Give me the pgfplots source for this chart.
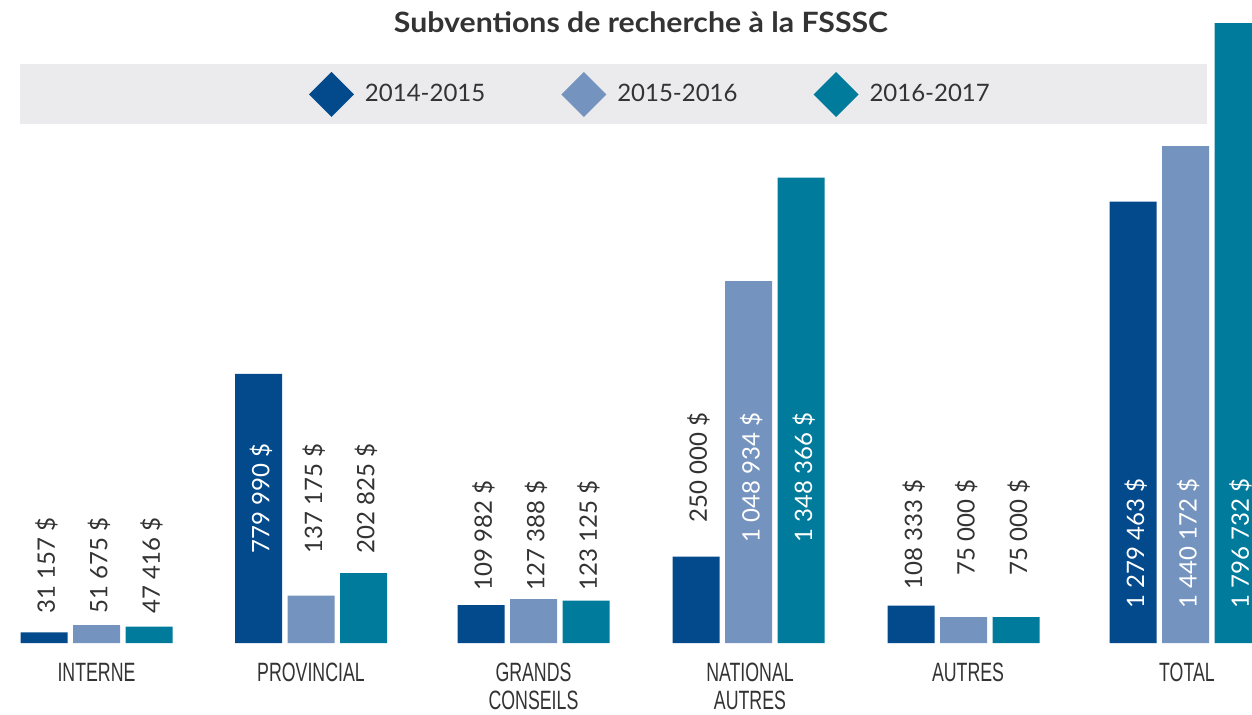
\documentclass[border=0pt]{standalone}
\usepackage{fontspec}
\setmainfont{Lato}
\newfontfamily\condfont[FakeStretch=0.67]{Liberation Sans}
\newfontfamily\titlefont[FakeStretch=1.08]{Lato}
\usepackage{pgfplots}
\pgfplotsset{compat=1.18}
\usepackage{pgfplotstable}

\definecolor{cA}{RGB}{2,74,140}
\definecolor{cB}{RGB}{116,147,191}
\definecolor{cC}{RGB}{0,123,155}
\definecolor{band}{RGB}{235,235,237}
\definecolor{txt}{RGB}{51,51,51}

\pgfplotstableread{
x a b c
96.5 31157 51675 47416
311 779990 137175 202825
533.5 109982 127388 123125
748.5 250000 1048934 1348366
963.5 108333 75000 75000
1185.5 1279463 1440172 1796732
}\data

\begin{document}
\begin{tikzpicture}
\begin{axis}[
  name=ax,
  scale only axis, width=626pt, height=357pt,
  xmin=0, xmax=1252, ymin=-205758, ymax=1863414,
  hide axis, clip=true,
  ybar, bar width=47,
  legend image code/.code={\fill[#1] (0pt,0pt) -- (11.25pt,11.25pt) -- (22.5pt,0pt) -- (11.25pt,-11.25pt) -- cycle;},
  legend columns=3,
  legend style={at={(rel axis cs:{309/1252},{1-94.5/714})}, anchor=west,
    draw=none, fill=none, inner sep=0pt, outer sep=0pt,
    text=txt, font=\fontsize{12}{14}\selectfont,
    nodes={inner sep=0pt},
    /tikz/every odd column/.append style={column sep=5.5pt},
    /tikz/every even column/.append style={column sep=38pt}},
  label style={font=\fontsize{12}{14}\selectfont}
]
\fill[band] (rel axis cs:{20/1252},{1-64/714}) rectangle (rel axis cs:{1207/1252},{1-124/714});

\addplot[fill=cA, draw=none, bar shift=-52.5] table[x=x,y=a]{\data};
\addplot[fill=cB, draw=none, bar shift=0] table[x=x,y=b]{\data};
\addplot[fill=cC, draw=none, bar shift=52.5] table[x=x,y=c]{\data};
\legend{2014-2015,2015-2016,2016-2017}

% title
\node[anchor=base, font=\titlefont\bfseries\fontsize{14}{16}\selectfont, text=txt, inner sep=0pt]
  at (rel axis cs:{641/1252},{1-33/714}) {Subventions de recherche à la FSSSC};

% value labels
\tikzset{vl/.style={rotate=90, anchor=base east, inner sep=0pt, font=\fontsize{12}{14}\selectfont, text=txt},
         vw/.style={vl, text=white}}
\node[vl] at (rel axis cs:{55/1252},{1-517/714}) {31 157 \$};
\node[vl] at (rel axis cs:{107.5/1252},{1-517/714}) {51 675 \$};
\node[vl] at (rel axis cs:{160/1252},{1-517/714}) {47 416 \$};

\node[vw] at (rel axis cs:{269.5/1252},{1-443/714}) {779 990 \$};
\node[vl] at (rel axis cs:{322/1252},{1-443/714}) {137 175 \$};
\node[vl] at (rel axis cs:{374.5/1252},{1-443/714}) {202 825 \$};

\node[vl] at (rel axis cs:{492/1252},{1-480/714}) {109 982 \$};
\node[vl] at (rel axis cs:{544.5/1252},{1-480/714}) {127 388 \$};
\node[vl] at (rel axis cs:{597/1252},{1-480/714}) {123 125 \$};

\node[vl] at (rel axis cs:{707/1252},{1-412/714}) {250 000 \$};
\node[vw] at (rel axis cs:{759.5/1252},{1-412/714}) {1 048 934 \$};
\node[vw] at (rel axis cs:{812/1252},{1-412/714}) {1 348 366 \$};

\node[vl] at (rel axis cs:{922/1252},{1-479/714}) {108 333 \$};
\node[vl] at (rel axis cs:{974.5/1252},{1-479/714}) {75 000 \$};
\node[vl] at (rel axis cs:{1027/1252},{1-479/714}) {75 000 \$};

\node[vw] at (rel axis cs:{1144/1252},{1-478/714}) {1 279 463 \$};
\node[vw] at (rel axis cs:{1196.5/1252},{1-478/714}) {1 440 172 \$};
\node[vw] at (rel axis cs:{1249/1252},{1-478/714}) {1 796 732 \$};

% category labels
\tikzset{cl/.style={anchor=base, inner sep=0pt, font=\condfont\fontsize{13.25}{15}\selectfont, text=txt}}
\node[cl] at (rel axis cs:{96.5/1252},{1-682/714}) {INTERNE};
\node[cl] at (rel axis cs:{311/1252},{1-682/714}) {PROVINCIAL};
\node[cl] at (rel axis cs:{533.5/1252},{1-682/714}) {GRANDS};
\node[cl] at (rel axis cs:{533.5/1252},{1-710/714}) {CONSEILS};
\node[cl] at (rel axis cs:{750/1252},{1-682/714}) {NATIONAL};
\node[cl] at (rel axis cs:{750/1252},{1-710/714}) {AUTRES};
\node[cl] at (rel axis cs:{968/1252},{1-682/714}) {AUTRES};
\node[cl] at (rel axis cs:{1187/1252},{1-682/714}) {TOTAL};
\end{axis}
\pgfresetboundingbox
\path (ax.south west) rectangle (ax.north east);
\end{tikzpicture}
\end{document}
